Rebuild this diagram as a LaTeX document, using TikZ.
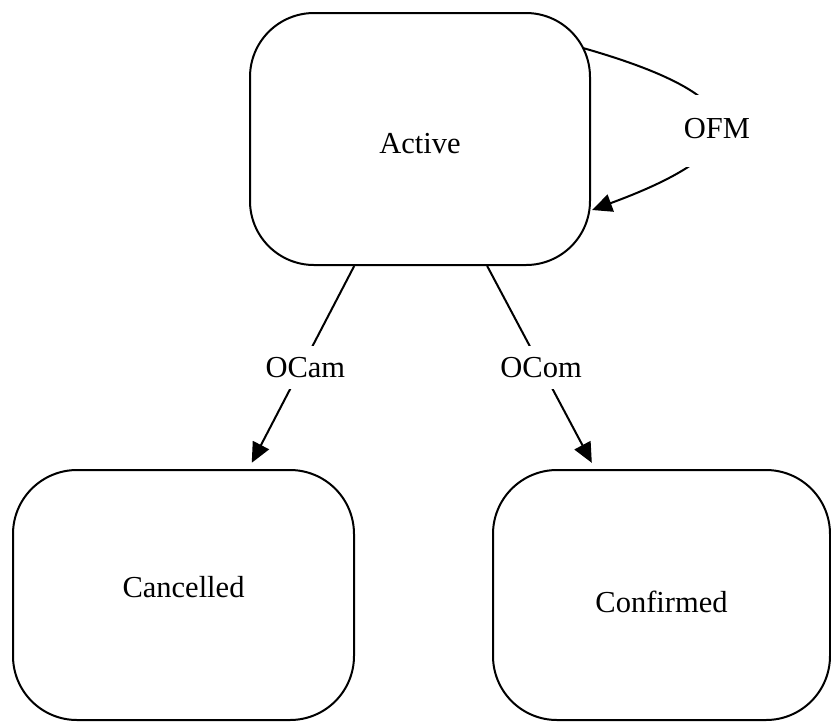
\documentclass[tikz,border=0pt]{standalone}
\usepackage{fontspec}
\setmainfont{Liberation Serif}
\usetikzlibrary{arrows.meta}
\begin{document}
\begin{tikzpicture}[x=1pt,y=-1pt,
  txt/.style={font=\fontsize{30.5}{36}\selectfont},
  state/.style={txt, draw, line width=2pt, rounded corners=64pt, inner sep=0pt},
  trans/.style={line width=2pt, -{Triangle[length=20pt,width=18pt]}},
  lbl/.style={txt, fill=white, inner sep=0pt, minimum width=86pt, minimum height=43pt}
]
\useasboundingbox (0,0) rectangle (831,724);

% states
\node[state, minimum width=340pt, minimum height=252pt,
      text height=28.2pt, text depth=0pt] (act) at (420,139) {Active};
\node[state, minimum width=341pt, minimum height=250pt,
      text height=24.2pt, text depth=20pt] (can) at (183.5,595) {Cancelled};
\node[state, minimum width=337pt, minimum height=250pt,
      text height=34.2pt, text depth=0pt] (conf) at (661.5,595) {Confirmed};

% self loop end points on the border of Active
\coordinate (ofmout) at (583,48);
\coordinate (ofmin) at (592,210);

% transitions
\draw[trans, shorten >=7pt] (act) -- node[lbl, xshift=4pt] {OCam} (can);
\draw[trans, shorten >=7pt] (act) -- node[lbl] {OCom} (conf);
\draw[trans] (ofmout) .. controls (765,100) and (755,150) ..
  node[lbl, minimum width=76pt, minimum height=72pt, yshift=-5pt,
       text height=14pt, text depth=0pt] {OFM} (ofmin);
\end{tikzpicture}
\end{document}
